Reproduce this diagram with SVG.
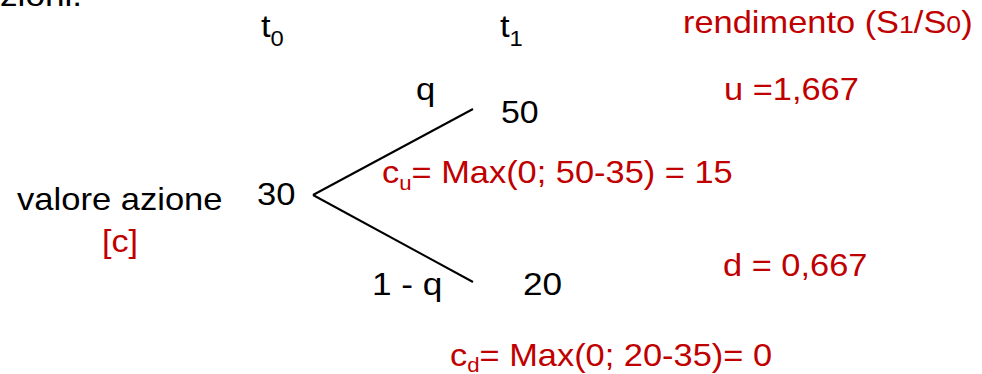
<svg xmlns="http://www.w3.org/2000/svg" width="982" height="374" viewBox="0 0 982 374">
<style>
.k{font-family:"Liberation Sans",Arial,sans-serif;fill:#000;font-size:32px}
.r{font-family:"Liberation Sans",Arial,sans-serif;fill:#C00000;font-size:31px}
.ln{stroke:#000;stroke-width:2;fill:none}
</style>
<rect width="982" height="374" fill="#fff"/>
<text class="k" transform="translate(0,6) scale(1.1,1)" font-size="34">zioni.</text>
<g id="headers">
<text class="k" transform="translate(261,37) scale(1.08,1)">t<tspan font-size="22" dy="9">0</tspan></text>
<text class="k" transform="translate(500,37) scale(1.08,1)">t<tspan font-size="22" dy="9">1</tspan></text>
<text class="r" transform="translate(683,33) scale(1.11,1)">rendimento (S<tspan font-size="24">1</tspan>/S<tspan font-size="24">0</tspan>)</text>
</g>
<g id="connectors">
<line class="ln" x1="313" y1="195" x2="473" y2="109"/>
<line class="ln" x1="313" y1="195" x2="473" y2="282"/>
</g>
<g id="node-root">
<text class="k" transform="translate(17,210) scale(1.08,1)">valore azione</text>
<text class="r" transform="translate(102,252) scale(1.1,1)" font-size="32">[c]</text>
<text class="k" transform="translate(257,205) scale(1.08,1)">30</text>
</g>
<g id="node-up">
<text class="k" transform="translate(416,100) scale(1.08,1)">q</text>
<text class="k" transform="translate(501,123) scale(1.06,1)" font-size="34">50</text>
<text class="r" transform="translate(382,183) scale(1.11,1)">c<tspan font-size="20" dy="7">u</tspan><tspan dy="-7">= Max(0; 50-35) = 15</tspan></text>
<text class="r" transform="translate(724,100) scale(1.11,1)">u =1,667</text>
</g>
<g id="node-down">
<text class="k" transform="translate(372,295) scale(1.1,1)" font-size="30">1 - q</text>
<text class="k" transform="translate(523,295) scale(1.1,1)" font-size="30">20</text>
<text class="r" transform="translate(723,276) scale(1.11,1)">d = 0,667</text>
<text class="r" transform="translate(450,366) scale(1.11,1)">c<tspan font-size="20" dy="6">d</tspan><tspan dy="-6">= Max(0; 20-35)= 0</tspan></text>
</g>
</svg>
